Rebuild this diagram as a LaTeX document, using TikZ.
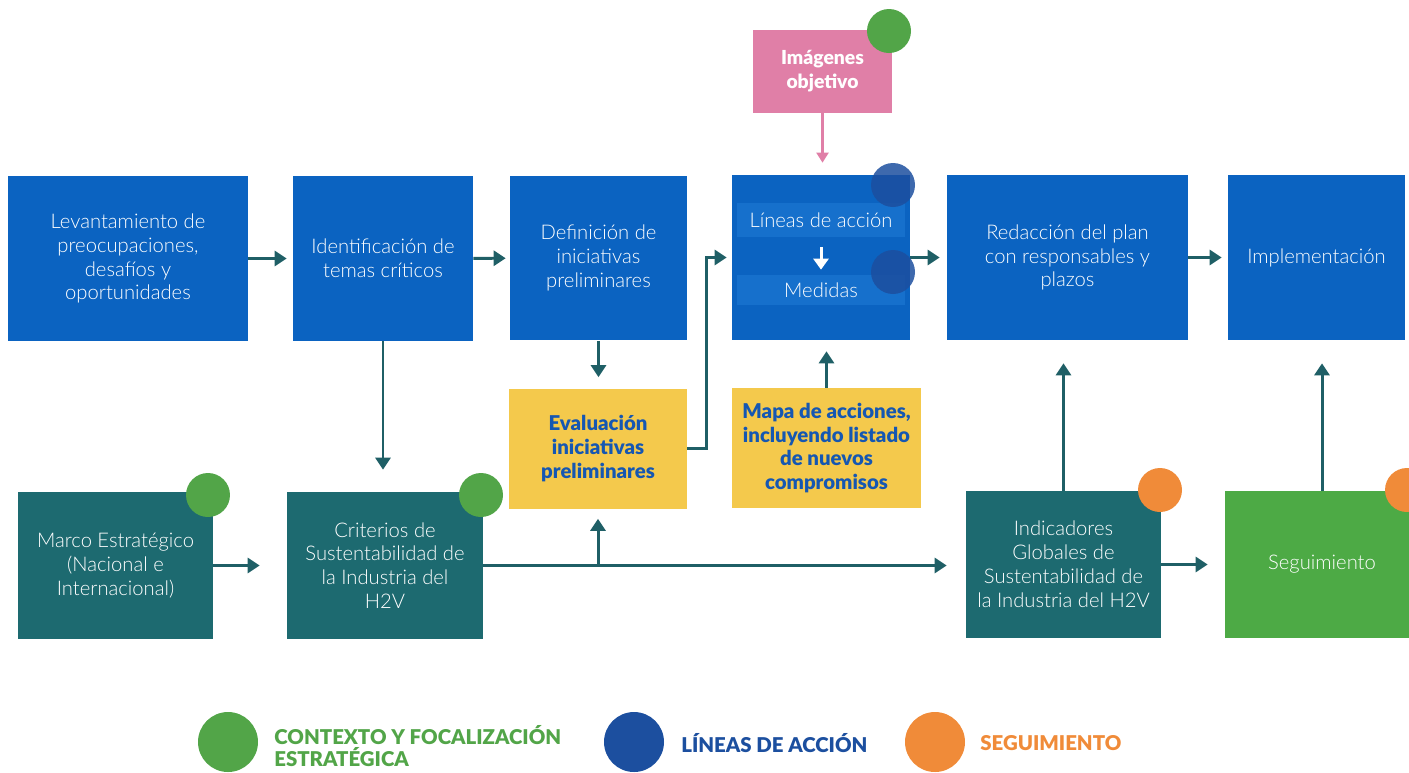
\documentclass[tikz,border=0pt]{standalone}
\usepackage{fontspec}
\setmainfont{Lato}[UprightFont = {* Light}, BoldFont = {* Black}]
\usepackage{xcolor}
\usepackage{tikz}
\usetikzlibrary{arrows.meta}

\definecolor{boxblue}{HTML}{0B63C1}
\definecolor{stripblue}{HTML}{1670CC}
\definecolor{teal}{HTML}{1D6A70}
\definecolor{segreen}{HTML}{4DAA45}
\definecolor{boxyellow}{HTML}{F4C94C}
\definecolor{boxpink}{HTML}{E07FA7}
\definecolor{dotgreen}{HTML}{52A548}
\definecolor{dotblue}{HTML}{1C4F9F}
\definecolor{dotorange}{HTML}{F08B39}
\definecolor{flowcol}{HTML}{1F5F66}
\definecolor{textblue}{HTML}{1557B2}

\tikzset{
    box/.style = {rectangle, inner sep = 2pt, align = center, text = white,
        font = \fontsize{11.5}{13.6}\selectfont},
    bluebox/.style = {box, fill = boxblue, minimum height = 3.3cm},
    tealbox/.style = {box, fill = teal, minimum height = 2.94cm},
    yellowbox/.style = {box, fill = boxyellow, text = textblue,
        font = \fontsize{11.6}{13.6}\selectfont\bfseries, minimum height = 2.4cm},
    strip/.style = {box, fill = stripblue, minimum width = 3.36cm},
    flow/.style = {draw = flowcol, line width = 1.7pt,
        -{Triangle[length = 0.24cm, width = 0.3cm]}},
    legtext/.style = {anchor = west, align = left, inner sep = 0pt,
        font = \fontsize{11.6}{12.5}\selectfont\bfseries}
}

\begin{document}
\begin{tikzpicture}[x = 0.02cm, y = -0.02cm]
    \useasboundingbox (0, 0) rectangle (1409, 772);

    % upper row
    \node[bluebox, minimum width = 4.8cm] (lev) at (128, 258.5)
        {Levantamiento de\\preocupaciones,\\desafíos y\\oportunidades};
    \node[bluebox, minimum width = 3.6cm] (ident) at (383, 258.5)
        {Identificación de\\temas críticos};
    \node[bluebox, minimum width = 3.54cm] (defin) at (598.5, 258)
        {Definición de\\iniciativas\\preliminares};
    \node[bluebox, minimum width = 3.56cm] (lineas) at (821, 257.5) {};
    \node[bluebox, minimum width = 4.82cm] (redac) at (1067.5, 257.5)
        {Redacción del plan\\con responsables y\\plazos};
    \node[bluebox, minimum width = 3.54cm] (impl) at (1316.5, 257.5)
        {Implementación};

    \node[strip, minimum height = 0.68cm] (lin1) at (821, 220) {Líneas de acción};
    \node[strip, minimum height = 0.6cm] (lin2) at (821, 290) {Medidas};
    \draw[draw = white, line width = 1.7pt, shorten < = 0.2cm, shorten > = 0.1cm,
        -{Triangle[length = 0.22cm, width = 0.3cm]}] (lin1.south) -- (lin2.north);

    \node[box, fill = boxpink, minimum width = 2.78cm, minimum height = 1.66cm,
        font = \fontsize{11}{13.6}\selectfont\bfseries] (imag) at (822.5, 71.5)
        {Imágenes\\objetivo};

    % middle row
    \node[yellowbox, minimum width = 3.56cm] (evalu) at (598, 448.5)
        {Evaluación\\iniciativas\\preliminares};
    \node[yellowbox, minimum width = 3.78cm] (mapa) at (826.5, 448)
        {Mapa de acciones,\\incluyendo listado\\de nuevos\\compromisos};

    % lower row
    \node[tealbox, minimum width = 3.9cm] (marco) at (115.5, 565.5)
        {Marco Estratégico\\(Nacional e\\Internacional)};
    \node[tealbox, minimum width = 3.92cm] (crit) at (385, 565.5)
        {Criterios de\\Sustentabilidad de\\la Industria del\\H2V};
    \node[tealbox, minimum width = 3.9cm] (indic) at (1063.5, 564.5)
        {Indicadores\\Globales de\\Sustentabilidad de\\la Industria del H2V};
    \node[box, fill = segreen, minimum width = 3.88cm, minimum height = 2.94cm]
        (segui) at (1322, 564.5) {Seguimiento};

    % connectors
    \coordinate (elb) at (706, 448.5);
    \coordinate (br) at (598, 565.5);

    \draw[flow, shorten > = 0.12cm] (lev) -- (ident);
    \draw[flow, shorten > = 0.08cm] (ident) -- (defin);
    \draw[flow, shorten > = 0.44cm] (ident.south) -- (ident.south |- crit.north);
    \draw[flow, shorten > = 0.22cm] (defin.south) -- (defin.south |- evalu.north);
    \draw[flow, shorten > = 0.1cm] (evalu.east) -- (elb) |- (lineas.west);
    \draw[flow, shorten > = 0.22cm] (mapa.north) -- (mapa.north |- lineas.south);
    \draw[draw = boxpink, line width = 1.2pt, shorten > = 0.24cm,
        -{Triangle[length = 0.2cm, width = 0.24cm]}] (imag.south) -- (imag.south |- lineas.north);
    \draw[flow, shorten > = 0.14cm] (lineas) -- (redac);
    \draw[flow, shorten > = 0.12cm] (redac) -- (impl);
    \draw[flow, shorten > = 0.54cm] (marco) -- (crit);
    \draw[flow, shorten > = 0.38cm] (crit.east) -- (crit.east -| indic.west);
    \draw[flow, shorten > = 0.2cm] (br) -- (br |- evalu.south);
    \draw[flow, shorten > = 0.46cm] (indic.north) -- (indic.north |- redac.south);
    \draw[flow, shorten > = 0.34cm] (indic.east) -- (indic.east -| segui.west);
    \draw[flow, shorten > = 0.46cm] (segui.north) -- (segui.north |- impl.south);

    % markers
    \fill[dotgreen] (889, 31) circle[radius = 0.44cm];
    \fill[dotblue, opacity = 0.85] (893, 185) circle[radius = 0.44cm];
    \fill[dotblue, opacity = 0.85] (893, 272) circle[radius = 0.44cm];
    \fill[dotgreen] (208, 495) circle[radius = 0.44cm];
    \fill[dotgreen] (481, 495) circle[radius = 0.44cm];
    \fill[dotorange] (1160, 490) circle[radius = 0.44cm];
    \fill[dotorange] (1407, 490) circle[radius = 0.44cm];

    % legend
    \fill[dotgreen] (228, 742) circle[radius = 0.6cm];
    \fill[dotblue] (634, 742) circle[radius = 0.6cm];
    \fill[dotorange] (935, 742) circle[radius = 0.6cm];
    \node[legtext, text = dotgreen] (legctx) at (274, 746)
        {CONTEXTO Y FOCALIZACIÓN\\ESTRATÉGICA};
    \node[legtext, text = dotblue] (leglin) at (681, 743) {LÍNEAS DE ACCIÓN};
    \node[legtext, text = dotorange] (legseg) at (980, 743) {SEGUIMIENTO};
\end{tikzpicture}
\end{document}
